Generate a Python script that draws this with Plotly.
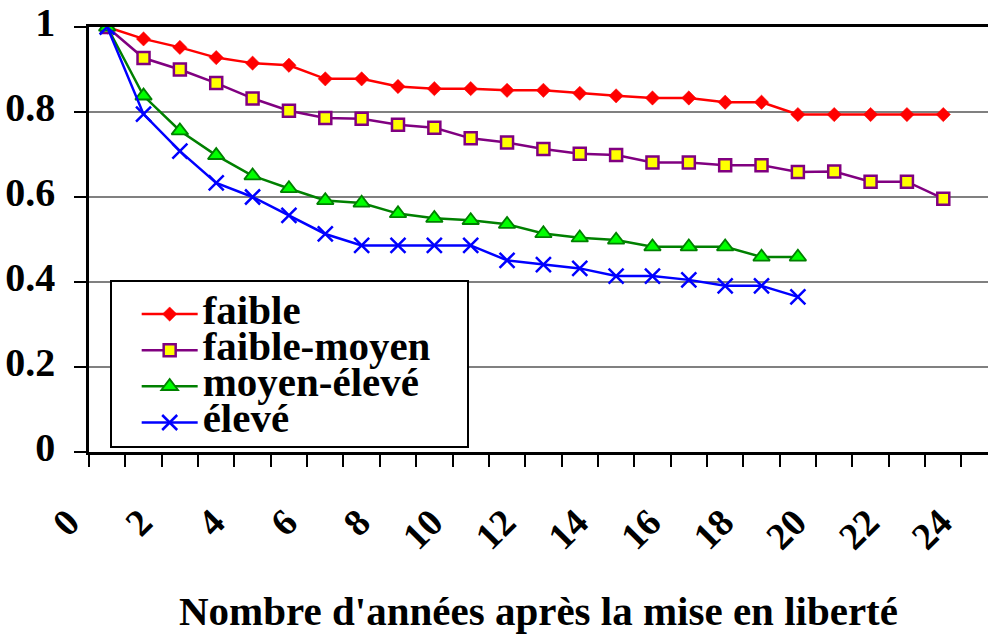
import plotly.graph_objects as go

# ---- data ----
years = [0, 1, 2, 3, 4, 5, 6, 7, 8, 9, 10, 11, 12, 13, 14, 15, 16, 17, 18, 19, 20, 21, 22, 23]
faible = [1.0, 0.972, 0.952, 0.928, 0.915, 0.910, 0.878, 0.878, 0.860, 0.855, 0.855, 0.851,
          0.851, 0.844, 0.838, 0.833, 0.833, 0.823, 0.823, 0.794, 0.794, 0.794, 0.794, 0.794]
faible_moyen = [1.0, 0.927, 0.900, 0.868, 0.832, 0.803, 0.786, 0.784, 0.770, 0.763, 0.738, 0.728,
                0.713, 0.702, 0.699, 0.681, 0.681, 0.675, 0.675, 0.659, 0.660, 0.636, 0.636, 0.596]
moyen_eleve = [1.0, 0.838, 0.756, 0.698, 0.650, 0.620, 0.592, 0.586, 0.561, 0.550, 0.545, 0.536,
               0.514, 0.504, 0.499, 0.483, 0.483, 0.483, 0.459, 0.459]
eleve = [1.0, 0.795, 0.708, 0.633, 0.600, 0.557, 0.513, 0.486, 0.486, 0.486, 0.486, 0.451,
         0.441, 0.432, 0.414, 0.414, 0.405, 0.391, 0.391, 0.365]
series_names = ["faible", "faible-moyen", "moyen-élevé", "élevé"]
x_tick_vals = [0, 2, 4, 6, 8, 10, 12, 14, 16, 18, 20, 22, 24]
x_tick_text = ["0", "2", "4", "6", "8", "10", "12", "14", "16", "18", "20", "22", "24"]
y_tick_vals = [0, 0.2, 0.4, 0.6, 0.8, 1.0]
y_tick_text = ["0", "0.2", "0.4", "0.6", "0.8", "1"]
n_categories = 25

FONT = "Liberation Serif"

def lname(s):
    return '<span style="font-size:41px">' + s + '&nbsp;&nbsp;&nbsp;</span>'

fig = go.Figure()
fig.add_trace(go.Scatter(
    x=years, y=faible, name=lname(series_names[0]), mode="lines+markers",
    line=dict(color="#FF0000", width=2.5),
    marker=dict(symbol="diamond", size=11, color="#FF0000", line=dict(color="#FF0000", width=0.5)),
))
fig.add_trace(go.Scatter(
    x=years[:len(faible_moyen)], y=faible_moyen, name=lname(series_names[1]), mode="lines+markers",
    line=dict(color="#800080", width=2.5),
    marker=dict(symbol="square", size=12, color="#FFFF00", line=dict(color="#800080", width=2.5)),
))
fig.add_trace(go.Scatter(
    x=years[:len(moyen_eleve)], y=moyen_eleve, name=lname(series_names[2]), mode="lines+markers",
    line=dict(color="#008000", width=2.5),
    marker=dict(symbol="triangle-up", size=14.5, color="#00FF00", line=dict(color="#008000", width=1.8)),
))
fig.add_trace(go.Scatter(
    x=years[:len(eleve)], y=eleve, name=lname(series_names[3]), mode="lines+markers",
    line=dict(color="#0000FF", width=2.5),
    marker=dict(symbol="x-thin", size=15, color="#0000FF", line=dict(color="#0000FF", width=2.5)),
))

boundaries = [c - 0.5 for c in range(n_categories + 1)]

fig.update_layout(
    width=988, height=635,
    margin=dict(l=89, r=0, t=21, b=183),
    paper_bgcolor="white", plot_bgcolor="white",
    font=dict(family=FONT, size=40, color="black", weight="bold"),
    showlegend=True,
    legend=dict(
        x=0.023, y=0.405, xanchor="left", yanchor="top",
        bgcolor="white", bordercolor="black", borderwidth=2,
        font=dict(family=FONT, size=25.5, color="black", weight="bold"),
        itemwidth=56, indentation=25,
        title=dict(text="&nbsp;", font=dict(size=7)),
    ),
    xaxis=dict(
        range=[-0.5, 24.23],
        tickvals=x_tick_vals, ticktext=x_tick_text,
        tickangle=-45, ticks="",
        tickfont=dict(family=FONT, size=38, color="black", weight="bold"),
        ticklabelshift=-39, ticklabelstandoff=30, ticklabeloverflow="allow",
        minor=dict(tickvals=boundaries, ticks="outside", ticklen=12, tickwidth=2, tickcolor="black", showgrid=False),
        showline=True, linecolor="black", linewidth=2.5, mirror=True,
        showgrid=False, zeroline=False,
        title=dict(text="Nombre d'années après la mise en liberté",
                   font=dict(family=FONT, size=41, color="black", weight="bold"), standoff=40),
    ),
    yaxis=dict(
        range=[0, 1], tickvals=y_tick_vals, ticktext=y_tick_text,
        ticks="outside", ticklen=12, tickwidth=2, tickcolor="black",
        tickfont=dict(family=FONT, size=40, color="black", weight="bold"),
        ticklabelstandoff=11, ticklabelshift=-5, ticklabeloverflow="allow",
        showline=True, linecolor="black", linewidth=2.5,
        showgrid=True, gridcolor="#808080", gridwidth=1.5, zeroline=False,
    ),
)

fig.write_html("out.html", config={"displayModeBar": False},
               post_script="document.body.style.margin='0';document.body.style.overflow='hidden';")
